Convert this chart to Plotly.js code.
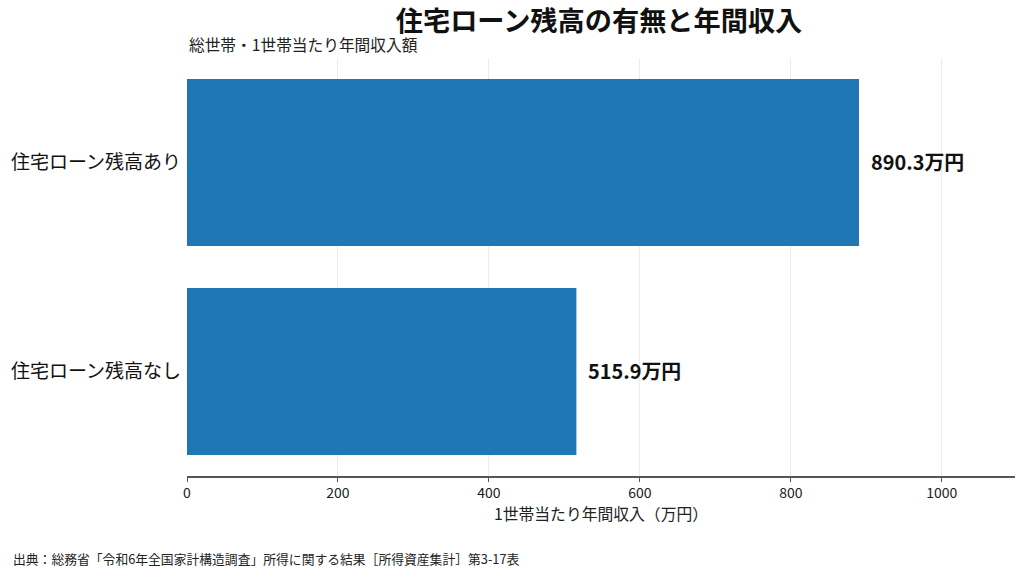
<!DOCTYPE html>
<html>
<head>
<meta charset="utf-8">
<script src="https://cdn.plot.ly/plotly-3.0.1.min.js"></script>
<style>
  html, body { margin: 0; padding: 0; background: #fff; }
  #chart { width: 1024px; height: 577px; }
</style>
</head>
<body>
<div id="chart"></div>
<script>
// 住宅ローン残高の有無別 1世帯当たり年間収入（万円）
var categories = ['住宅ローン残高なし', '住宅ローン残高あり'];
var incomes = [515.9, 890.3];
var xTicks = [0, 200, 400, 600, 800, 1000];

var FONT = '"Noto Sans CJK JP", "Noto Sans", sans-serif';

var bars = {
    type: 'bar',
    orientation: 'h',
    y: categories,
    x: incomes,
    marker: { color: '#1f77b4' },
    hoverinfo: 'none'
};

// value labels next to each bar
var labels = [];
for (let i = 0; i < categories.length; i++) {
    labels.push({
        x: incomes[i],
        y: categories[i],
        xref: 'x', yref: 'y',
        text: '<b>' + incomes[i].toFixed(1) + '万円</b>',
        showarrow: false,
        xanchor: 'left',
        xshift: 10,
        yshift: 1,
        font: { family: FONT, size: 19.9, color: '#111' }
    });
}

labels.push({
    text: '総世帯・1世帯当たり年間収入額',
    xref: 'paper', yref: 'paper',
    x: 0, y: 1,
    xanchor: 'left', yanchor: 'bottom',
    yshift: 0,
    showarrow: false,
    font: { family: FONT, size: 15.7, color: '#222' }
});

labels.push({
    text: '出典：総務省「令和6年全国家計構造調査」所得に関する結果［所得資産集計］第3-17表',
    xref: 'paper', yref: 'paper',
    x: -0.2126, y: -0.197,
    xanchor: 'left', yanchor: 'middle',
    showarrow: false,
    font: { family: FONT, size: 12.8, color: '#222' }
});

var layout = {
    width: 1024,
    height: 577,
    margin: { l: 187, r: 9, t: 58, b: 101 },
    paper_bgcolor: '#fff',
    plot_bgcolor: '#fff',
    font: { family: FONT, color: '#222' },
    showlegend: false,
    bargap: 0.2,
    title: {
        text: '<b>住宅ローン残高の有無と年間収入</b>',
        font: { family: FONT, size: 27.2, color: '#111' },
        x: 0.585, xanchor: 'center',
        y: 0.963, yanchor: 'middle'
    },
    xaxis: {
        range: [0, 1097],
        tickvals: xTicks,
        ticktext: xTicks.map(String),
        showgrid: true,
        gridcolor: '#ececec',
        gridwidth: 1,
        zeroline: false,
        showline: true,
        linecolor: '#555',
        linewidth: 1.5,
        ticks: 'outside',
        ticklen: 4,
        tickcolor: '#555',
        tickfont: { family: FONT, size: 14, color: '#222' },
        title: {
            text: '1世帯当たり年間収入（万円）',
            font: { family: FONT, size: 15.8, color: '#222' },
            standoff: 5
        },
        fixedrange: true
    },
    yaxis: {
        showgrid: false,
        zeroline: false,
        showline: false,
        ticks: '',
        ticklabelstandoff: 5,
        tickfont: { family: FONT, size: 19, color: '#111' },
        fixedrange: true
    },
    annotations: labels
};

Plotly.newPlot('chart', [bars], layout, { displayModeBar: false, staticPlot: true });
</script>
</body>
</html>
